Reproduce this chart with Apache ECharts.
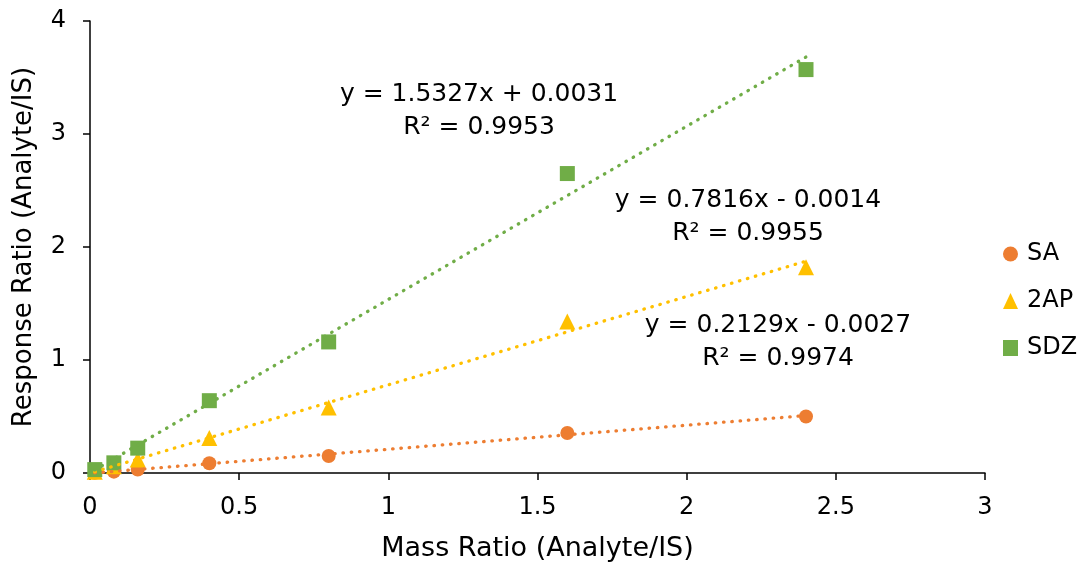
<!DOCTYPE html>
<html><head><meta charset="utf-8">
<script src="https://cdn.jsdelivr.net/npm/echarts@6/dist/echarts.min.js"></script>
<style>html,body{margin:0;padding:0;background:#fff}#c{width:1086px;height:564px}</style>
</head><body><div id="c"></div>
<script>
const massRatio = [0.016, 0.08, 0.16, 0.4, 0.8, 1.6, 2.4];
const saValues  = [0.002, 0.012, 0.03, 0.086, 0.15, 0.354, 0.50];
const apValues  = [0.01, 0.06, 0.12, 0.31, 0.58, 1.34, 1.82];
const sdzValues = [0.03, 0.09, 0.22, 0.64, 1.16, 2.65, 3.57];
const seriesNames = ['SA', '2AP', 'SDZ'];
const slopes = [0.2129, 0.7816, 1.5327];
const intercepts = [-0.0027, -0.0014, 0.0031];
const r2 = ['0.9974', '0.9955', '0.9953'];
const xTicks = [0, 0.5, 1, 1.5, 2, 2.5, 3];
const yTicks = [0, 1, 2, 3, 4];

const colors = ['#ED7D31', '#FFC000', '#70AD47'];
const symbols = ['circle', 'triangle', 'rect'];
const sizes = [14, 16, 15];
const values = [saValues, apValues, sdzValues];
const FONT = '"DejaVu Sans", sans-serif';

const chart = echarts.init(document.getElementById('c'));
const series = [];
values.forEach((vals, i) => {
  series.push({
    name: seriesNames[i], type: 'scatter', symbol: symbols[i], symbolSize: sizes[i],
    itemStyle: { color: colors[i], opacity: 1 }, z: 2,
    data: massRatio.map((x, j) => [x, vals[j]])
  });
});
values.forEach((vals, i) => {
  const x0 = massRatio[0], x1 = massRatio[massRatio.length - 1];
  series.push({
    name: seriesNames[i] + ' trend', type: 'line', showSymbol: false, symbol: 'none',
    silent: true, z: 3,
    lineStyle: { color: colors[i], width: 3.3, type: [0.5, 7.8], cap: 'round' },
    data: [[x0, slopes[i] * x0 + intercepts[i]], [x1, slopes[i] * x1 + intercepts[i]]]
  });
});

function eqText(i) {
  const b = intercepts[i];
  return 'y = ' + slopes[i].toFixed(4) + 'x ' + (b < 0 ? '- ' : '+ ') + Math.abs(b).toFixed(4);
}
const labelPos = [[778, 325], [748, 200], [479, 94]];
const graphics = [];
labelPos.forEach((p, i) => {
  graphics.push({ type: 'text', x: p[0], y: p[1], style: { text: eqText(i), font: '25px ' + FONT, fill: '#000', align: 'center', verticalAlign: 'middle' } });
  graphics.push({ type: 'text', x: p[0], y: p[1] + 33, style: { text: 'R² = ' + r2[i], font: '25px ' + FONT, fill: '#000', align: 'center', verticalAlign: 'middle' } });
});

chart.setOption({
  animation: false,
  backgroundColor: '#fff',
  textStyle: { fontFamily: FONT },
  grid: { left: 90, right: 101, top: 21, bottom: 91, containLabel: false, outerBoundsMode: 'none' },
  xAxis: {
    type: 'value', min: xTicks[0], max: xTicks[xTicks.length - 1], interval: 0.5,
    name: 'Mass Ratio (Analyte/IS)', nameLocation: 'middle', nameGap: 76,
    nameTextStyle: { fontSize: 27, color: '#000', fontFamily: FONT, verticalAlign: 'middle' },
    axisLine: { lineStyle: { color: '#000', width: 1.5 } },
    axisTick: { show: true, inside: false, length: 7, lineStyle: { color: '#000', width: 1.5 } },
    axisLabel: { fontSize: 24, color: '#000', margin: 23, fontFamily: FONT },
    splitLine: { show: false }
  },
  yAxis: {
    type: 'value', min: yTicks[0], max: yTicks[yTicks.length - 1], interval: 1,
    name: 'Response Ratio (Analyte/IS)', nameLocation: 'middle', nameGap: 66,
    nameTextStyle: { fontSize: 26, color: '#000', fontFamily: FONT, verticalAlign: 'middle' },
    axisLine: { show: true, lineStyle: { color: '#000', width: 1.5 } },
    axisTick: { show: true, inside: false, length: 7, lineStyle: { color: '#000', width: 1.5 } },
    axisLabel: { fontSize: 24, color: '#000', margin: 24, fontFamily: FONT },
    splitLine: { show: false }
  },
  legend: {
    orient: 'vertical', left: 998, top: 237, itemGap: 23, itemWidth: 15, itemHeight: 16,
    data: seriesNames.map((n, i) => ({ name: n, icon: symbols[i] })),
    textStyle: { fontSize: 24, lineHeight: 22, color: '#000', fontFamily: FONT, padding: [0, 0, 0, 4] }
  },
  graphic: graphics,
  series: series
});
</script></body></html>
